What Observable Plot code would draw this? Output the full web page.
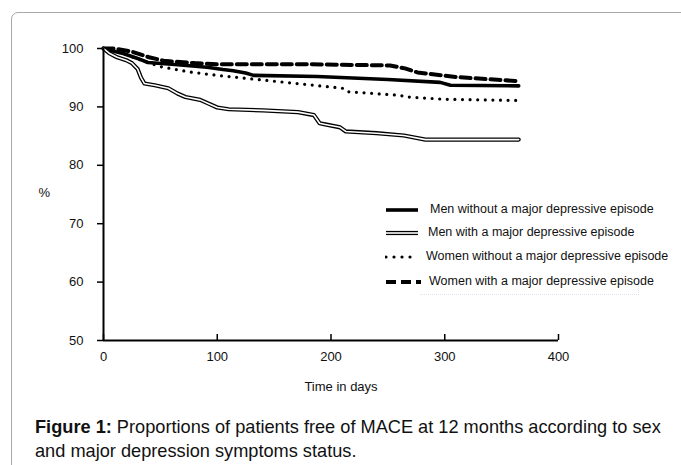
<!DOCTYPE html>
<html>
<head>
<meta charset="utf-8">
<script src="https://cdn.jsdelivr.net/npm/d3@7"></script>
<script src="https://cdn.jsdelivr.net/npm/@observablehq/plot@0.6"></script>
<style>
  html, body { margin: 0; padding: 0; background: #fff; }
  #wrap { position: relative; width: 681px; height: 465px; overflow: hidden; font-family: "Liberation Sans", Arial, sans-serif; }
  #frame { position: absolute; left: 11px; top: 12px; width: 800px; height: 600px; border: 1px solid #a8a8a8; border-radius: 7px; }
  #chart { position: absolute; left: 0; top: 0; }
  #legend { position: absolute; left: 385px; top: 199px; font-size: 12.5px; color: #111; }
  .row { position: absolute; left: 0; height: 22px; white-space: nowrap; }
  .row svg { position: absolute; left: 0; top: 0; }
  .row span { position: absolute; top: 3px; }
  #legbox { position: absolute; left: 420px; top: 280px; width: 218px; height: 14px; border-bottom: 1px dotted #dfe0ea; border-right: 1px dotted #dfe0ea; }
  #caption { position: absolute; left: 35px; top: 415px; font-size: 18.2px; line-height: 24px; color: #111; white-space: nowrap; }
</style>
</head>
<body>
<div id="wrap">
  <div id="frame"></div>
  <div id="legbox"></div>
  <div id="chart"></div>
  <div id="legend"></div>
  <div id="caption"><b>Figure 1:</b> Proportions of patients free of MACE at 12 months according to sex<br>and major depression symptoms status.</div>
</div>
<script>
// ---- Data ----
const seriesNames = [
  "Men without a major depressive episode",
  "Men with a major depressive episode",
  "Women without a major depressive episode",
  "Women with a major depressive episode"
];

const menNoDays = [0, 10, 18, 30, 39, 60, 91, 105, 114, 125, 132, 188, 250, 296, 305, 365];
const menNoPct  = [100, 99.5, 99.1, 98.3, 97.6, 97.3, 96.8, 96.4, 96.2, 95.8, 95.4, 95.2, 94.7, 94.2, 93.7, 93.6];

const menYesDays = [0, 5, 12, 20, 25, 30, 33, 36, 45, 57, 65, 72, 85, 92, 100, 110, 140, 171, 185, 190, 195, 208, 213, 240, 264, 283, 365];
const menYesPct  = [100, 99.2, 98.5, 98.0, 97.5, 96.5, 95.0, 94.0, 93.7, 93.2, 92.3, 91.7, 91.2, 90.6, 89.9, 89.6, 89.4, 89.1, 88.6, 87.2, 87.0, 86.5, 85.8, 85.5, 85.1, 84.4, 84.4];

const womenNoDays = [0, 15, 30, 50, 75, 100, 135, 170, 210, 214, 260, 267, 300, 365];
const womenNoPct  = [100, 99.3, 98.2, 96.9, 96.0, 95.4, 94.7, 94.0, 93.2, 92.6, 92.0, 91.7, 91.3, 91.1];

const womenYesDays = [0, 10, 26, 40, 53, 80, 100, 180, 252, 265, 276, 311, 365];
const womenYesPct  = [100, 100, 99.4, 98.5, 97.9, 97.5, 97.3, 97.3, 97.1, 96.6, 95.9, 95.1, 94.4];

const xTicks = [0, 100, 200, 300, 400];
const yTicks = [50, 60, 70, 80, 90, 100];
const xDomain = [0, 400];
const yDomain = [50, 100];

// ---- Build tables ----
const toRows = (days, pct) => days.map((d, i) => ({day: d, pct: pct[i]}));
const menNo = toRows(menNoDays, menNoPct);
const menYes = toRows(menYesDays, menYesPct);
const womenNo = toRows(womenNoDays, womenNoPct);
const womenYes = toRows(womenYesDays, womenYesPct);

// styles
const sMenNo = {stroke: "#000", strokeWidth: 3.6};
const sMenYesOuter = {stroke: "#000", strokeWidth: 4.2};
const sMenYesInner = {stroke: "#fff", strokeWidth: 1.6};
const sWomenNo = {stroke: "#000", strokeWidth: 3.2, strokeDasharray: "0 7.6", strokeLinecap: "round"};
const sWomenYes = {stroke: "#000", strokeWidth: 4, strokeDasharray: "10 5"};

const chart = Plot.plot({
  width: 681,
  height: 400,
  marginLeft: 103,
  marginRight: 123,
  marginTop: 48,
  marginBottom: 60,
  x: {domain: xDomain, label: null},
  y: {domain: yDomain, label: null},
  style: {fontFamily: "'Liberation Sans', Arial, sans-serif", fontSize: "13px", color: "#111", background: "transparent", overflow: "visible"},
  marks: [
    Plot.axisY(yTicks, {tickSize: 6, tickPadding: 14, strokeWidth: 1.5, fontSize: 13, stroke: "#000"}),
    Plot.axisX(xTicks, {tickSize: -6, tickPadding: 17, strokeWidth: 1.5, fontSize: 13, stroke: "#000"}),
    Plot.line(womenNo, {x: "day", y: "pct", curve: "linear", ...sWomenNo}),
    Plot.line(womenYes, {x: "day", y: "pct", curve: "linear", ...sWomenYes}),
    Plot.line(menNo, {x: "day", y: "pct", curve: "linear", ...sMenNo}),
    Plot.line(menYes, {x: "day", y: "pct", curve: "linear", ...sMenYesOuter}),
    Plot.line(menYes, {x: "day", y: "pct", curve: "linear", ...sMenYesInner}),
    Plot.ruleX([xDomain[0]], {strokeWidth: 2, stroke: "#000"}),
    Plot.ruleY([yDomain[0]], {strokeWidth: 2, stroke: "#000"}),
    Plot.text(["Time in days"], {frameAnchor: "bottom", dx: 10, dy: 50, fontSize: 13, fill: "#111"}),
    Plot.text(["%"], {frameAnchor: "left", dx: -65, dy: -2, fontSize: 13, fill: "#111"})
  ]
});
document.getElementById("chart").appendChild(chart);

// ---- Legend ----
const legendStyles = [
  [sMenNo],
  [sMenYesOuter, sMenYesInner],
  [{...sWomenNo, strokeDasharray: "0 8"}],
  [sWomenYes]
];
const legendRowTops = [0, 23, 47, 72];
const legendTextX = [45, 43, 41, 44];
const legendLineLen = [33, 33, 26, 36];
const legend = document.getElementById("legend");
seriesNames.forEach((name, i) => {
  const row = document.createElement("div");
  row.className = "row";
  row.style.top = legendRowTops[i] + "px";
  const svg = d3.create("svg").attr("width", 40).attr("height", 22);
  legendStyles[i].forEach(s => {
    svg.append("line")
      .attr("x1", 1).attr("x2", legendLineLen[i]).attr("y1", 11).attr("y2", 11)
      .attr("stroke", s.stroke).attr("stroke-width", s.strokeWidth)
      .attr("stroke-dasharray", s.strokeDasharray || null)
      .attr("stroke-linecap", s.strokeLinecap || null);
  });
  row.appendChild(svg.node());
  const span = document.createElement("span");
  span.style.left = legendTextX[i] + "px";
  span.textContent = name;
  row.appendChild(span);
  legend.appendChild(row);
});
</script>
</body>
</html>
